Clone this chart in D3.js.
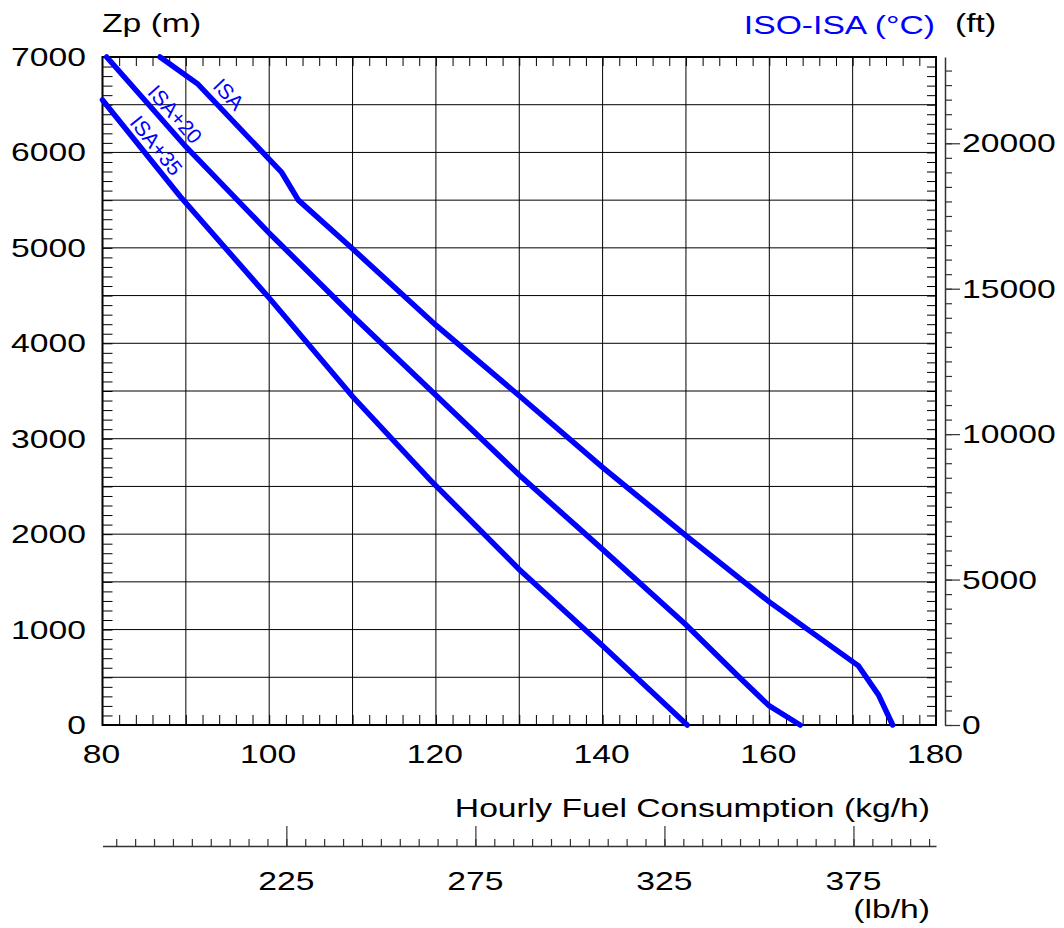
<!DOCTYPE html>
<html>
<head>
<meta charset="utf-8">
<script src="https://cdn.jsdelivr.net/npm/d3@7"></script>
<style>
  body { margin: 0; background: #fff; }
  svg { display: block; }
  text { font-family: "Liberation Sans", Arial, Helvetica, sans-serif; }
</style>
</head>
<body>
<svg id="chart" width="1064" height="928"></svg>
<script>
// Hourly fuel consumption (kg/h) against pressure altitude Zp (m),
// one curve per temperature deviation from ISA.
const isaFuel   = [86.9, 91.4, 101.5, 103.5, 110, 120, 130, 140, 150, 160, 170.7, 173.1, 174.8];
const isaAlt    = [7000, 6720, 5790, 5500, 4990, 4190, 3450, 2700, 1985, 1290, 620, 315, 0];
const isa20Fuel = [80.5, 90, 100, 110, 120, 130, 140, 150, 156.4, 160, 163.7];
const isa20Alt  = [7000, 6060, 5155, 4288, 3455, 2620, 1840, 1050, 500, 200, 0];
const isa35Fuel = [80, 89.3, 100, 110, 119.3, 130, 140, 150.15];
const isa35Alt  = [6550, 5540, 4474, 3442, 2569, 1630, 830, 0];
const seriesNames = ["ISA", "ISA+20", "ISA+35"];

// axis tick labels
const kgTicks  = [80, 100, 120, 140, 160, 180];
const altTicks = [0, 1000, 2000, 3000, 4000, 5000, 6000, 7000];
const ftTicks  = [0, 5000, 10000, 15000, 20000];
const lbTicks  = [225, 275, 325, 375];

const KG_TO_LB = 2.20462;
const M_TO_FT = 1 / 0.3048;

const svg = d3.select("#chart");
const FS = 25.5;      // label font size
const SX = 1.32;      // horizontal stretch of the lettering
const BLUE = "#0000ff";

const x = d3.scaleLinear().domain([80, 180]).range([102.5, 936]);
const y = d3.scaleLinear().domain([0, 7000]).range([725, 57]);
const yFt = d3.scaleLinear().domain([0, 7000 * M_TO_FT]).range([725, 57]);
const xLb = d3.scaleLinear().domain([80 * KG_TO_LB, 180 * KG_TO_LB]).range([102.5, 936]);

function label(g, txt, px, py, anchor, color) {
  return g.append("text")
    .attr("transform", `translate(${px},${py}) scale(${SX},1)`)
    .attr("text-anchor", anchor)
    .attr("font-size", FS)
    .attr("fill", color || "#000")
    .text(txt);
}

// grid
const grid = svg.append("g").attr("stroke", "#000").attr("stroke-width", 1);
grid.selectAll("line.v").data(d3.range(90, 180, 10)).join("line")
  .attr("x1", d => x(d)).attr("x2", d => x(d))
  .attr("y1", y(0)).attr("y2", y(7000));
grid.selectAll("line.h").data(d3.range(500, 7000, 500)).join("line")
  .attr("y1", d => y(d)).attr("y2", d => y(d))
  .attr("x1", x(80)).attr("x2", x(180));

// inner minor ticks on all four sides of the frame
function innerTicks(axis, tx, ty) {
  const g = svg.append("g").attr("transform", `translate(${tx},${ty})`).call(axis);
  g.select(".domain").remove();
  g.selectAll(".tick line").attr("stroke", "#000").attr("stroke-width", 1);
  g.selectAll(".tick text").remove();
}
const kgMinor = d3.range(82, 180, 2);
const mMinor = d3.range(100, 7000, 100);
innerTicks(d3.axisBottom(x).tickValues(kgMinor).tickSize(9).tickFormat(""), 0, y(7000));
innerTicks(d3.axisTop(x).tickValues(kgMinor).tickSize(10).tickFormat(""), 0, y(0));
innerTicks(d3.axisRight(y).tickValues(mMinor).tickSize(10).tickFormat(""), x(80), 0);
innerTicks(d3.axisLeft(y).tickValues(mMinor).tickSize(9).tickFormat(""), x(180), 0);

// frame
svg.append("rect")
  .attr("x", x(80)).attr("y", y(7000))
  .attr("width", x(180) - x(80)).attr("height", y(0) - y(7000))
  .attr("fill", "none").attr("stroke", "#000").attr("stroke-width", 2);

// curves
const series = [
  d3.zip(isaFuel, isaAlt),
  d3.zip(isa20Fuel, isa20Alt),
  d3.zip(isa35Fuel, isa35Alt)
];
const line = d3.line().x(d => x(d[0])).y(d => y(d[1]));
svg.append("g").selectAll("path").data(series).join("path")
  .attr("d", line)
  .attr("fill", "none").attr("stroke", BLUE).attr("stroke-width", 5.5)
  .attr("stroke-linejoin", "miter").attr("stroke-linecap", "round");

// curve names written along each line
const namePlace = [{ at: 93.8, off: -8 }, { at: 87.5, off: -6 }, { at: 85.2, off: -6 }];
series.forEach((pts, i) => {
  const v = namePlace[i].at;
  let k = 0;
  while (k < pts.length - 2 && pts[k + 1][0] < v) k++;
  const a = pts[k], b = pts[k + 1];
  const t = (v - a[0]) / (b[0] - a[0]);
  const h = a[1] + t * (b[1] - a[1]);
  const ang = Math.atan2(y(b[1]) - y(a[1]), x(b[0]) - x(a[0])) * 180 / Math.PI;
  svg.append("text")
    .attr("transform", `translate(${x(v)},${y(h)}) rotate(${ang})`)
    .attr("dy", namePlace[i].off)
    .attr("text-anchor", "middle")
    .attr("font-size", 21)
    .attr("fill", BLUE)
    .text(seriesNames[i]);
});

// main axis labels
const lab = svg.append("g");
kgTicks.forEach(v => label(lab, v, x(v) - 1, 763, "middle"));
altTicks.forEach(v => label(lab, v, 86, y(v) + 9, "end"));
label(lab, "Zp (m)", 102, 32, "start");
label(lab, "ISO-ISA (°C)", 935, 34, "end", BLUE);
label(lab, "(ft)", 955, 32, "start");

// feet scale on the right
const ftMinor = svg.append("g").attr("transform", `translate(945,0)`)
  .call(d3.axisRight(yFt).tickValues(d3.range(0, 23000, 500)).tickSize(7).tickSizeOuter(0).tickFormat(""));
ftMinor.selectAll(".tick line").attr("stroke", "#333").attr("stroke-width", 1.2);
ftMinor.select(".domain").attr("stroke", "#333").attr("stroke-width", 1.5);
const ftMajor = svg.append("g").attr("transform", `translate(945,0)`)
  .call(d3.axisRight(yFt).tickValues(ftTicks).tickSize(15).tickFormat(""));
ftMajor.select(".domain").remove();
ftMajor.selectAll(".tick line").attr("stroke", "#333").attr("stroke-width", 1.2);
ftTicks.forEach(v => label(lab, v, 962, yFt(v) + 9, "start"));

// pounds-per-hour scale below
const lbY = 846;
const lbMinor = svg.append("g").attr("transform", `translate(0,${lbY})`)
  .call(d3.axisTop(xLb).tickValues(d3.range(180, 400, 5)).tickSize(7).tickSizeOuter(0).tickFormat(""));
lbMinor.selectAll(".tick line").attr("stroke", "#333").attr("stroke-width", 1.2);
lbMinor.select(".domain").attr("stroke", "#333").attr("stroke-width", 1.5);
const lbMajor = svg.append("g").attr("transform", `translate(0,${lbY})`)
  .call(d3.axisTop(xLb).tickValues(lbTicks).tickSize(20).tickFormat(""));
lbMajor.select(".domain").remove();
lbMajor.selectAll(".tick line").attr("stroke", "#333").attr("stroke-width", 1.2);
lbTicks.forEach(v => label(lab, v, xLb(v), 890, "middle"));

label(lab, "Hourly Fuel Consumption (kg/h)", 930, 817, "end");
label(lab, "(lb/h)", 930, 918, "end");
</script>
</body>
</html>
